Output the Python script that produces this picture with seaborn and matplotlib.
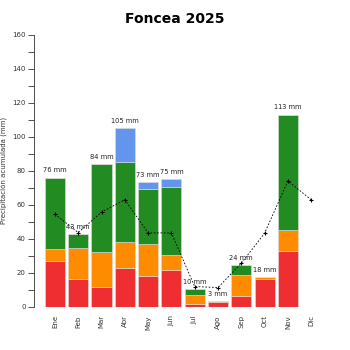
import matplotlib
matplotlib.use("Agg")
import matplotlib.pyplot as plt
import seaborn as sns
import numpy as np
import pandas as pd

months = ["Ene", "Feb", "Mar", "Abr", "May", "Jun", "Jul", "Ago", "Sep", "Oct", "Nov", "Dic"]
red = [27, 16.5, 11.6, 23, 18, 22, 1.8, 2.7, 6.5, 16.5, 33, 0]
orange = [7, 18, 20.4, 15.4, 19, 8.5, 5.5, 0.8, 12, 1.1, 12.3, 0]
green = [42, 8.5, 52, 47, 32.5, 40, 3.3, 0, 6, 0, 67.7, 0]
blue = [0, 0, 0, 19.5, 4, 4.7, 0, 0, 0, 0, 0, 0]
totals = [76, 43, 84, 105, 73, 75, 10, 3, 24, 18, 113, None]
avg = [54.5, 43.7, 55.7, 63, 43.5, 43.5, 12, 11.4, 25.7, 43.3, 74, 63]

sns.set_theme(style="white")
plt.rcParams['font.family'] = ['DejaVu Sans']

fig = plt.figure(figsize=(3.5, 3.5), dpi=100)
ax = fig.add_axes([0.097, 0.123, 0.852, 0.778])

colors = ["#EE2E31", "#FF8C00", "#228B22", "#6495ED"]
x = np.arange(len(months))
bottom = np.zeros(len(months))
for vals, c in zip([red, orange, green, blue], colors):
    ax.bar(x, vals, bottom=bottom, width=0.86, color=c, edgecolor="#dddddd", linewidth=0.4)
    bottom = bottom + np.array(vals)

for i, t in enumerate(totals):
    if t is not None:
        ax.text(i, bottom[i] + 2.5, f"{t} mm", ha="center", va="bottom", fontsize=4.8, color="#222222")

dfa = pd.DataFrame({"x": x, "avg": avg})
sns.lineplot(data=dfa, x="x", y="avg", ax=ax, color="black", linestyle=(0, (2, 2)),
             linewidth=0.6, marker="+", markersize=3, markeredgewidth=0.8, markeredgecolor="black")

ax.set_xlim(-0.9, 11.9)
ax.set_ylim(0, 160)
ax.set_xticks(x)
ax.set_xticklabels(months, rotation=90, fontsize=5, color="#333333")
ax.set_yticks(np.arange(0, 161, 20))
ax.set_yticks(np.arange(0, 161, 10), minor=True)
ax.tick_params(axis="y", which="major", labelsize=5, length=4, width=0.6, color="#333333", left=True, labelcolor="#333333", pad=2)
ax.tick_params(axis="y", which="minor", length=4, width=0.6, color="#333333", left=True)
ax.tick_params(axis="x", length=0, pad=6)
for s in ["top", "right", "bottom"]:
    ax.spines[s].set_visible(False)
ax.spines["left"].set_color("#333333")
ax.spines["left"].set_linewidth(0.6)
ax.set_xlabel("")
ax.set_ylabel("Precipitación acumulada (mm)", fontsize=5, color="#333333")
ax.yaxis.set_label_coords(-0.09, 0.5)
fig.suptitle("Foncea 2025", fontsize=10, fontweight="bold", y=0.965, color="black")

fig.savefig("out.png", dpi=100)
